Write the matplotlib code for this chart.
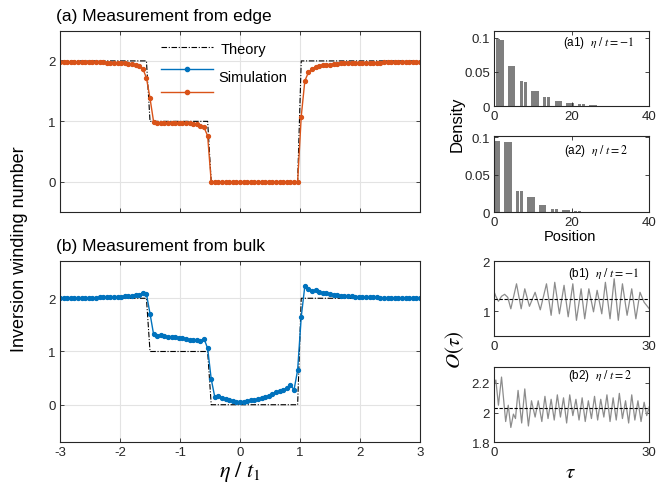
import numpy as np
import matplotlib
matplotlib.use('Agg')
import matplotlib.pyplot as plt
from matplotlib.lines import Line2D

plt.rcParams['font.family'] = ['Liberation Sans', 'DejaVu Sans']
plt.rcParams['mathtext.fontset'] = 'stix'
plt.rcParams['axes.unicode_minus'] = False

# eta / t1 grid (101 points, step 0.06)
eta = np.round(np.linspace(-3, 3, 101), 2)

theory = [2.0] * 25 + [1.0] * 17 + [0.0] * 25 + [2.0] * 34

edge = [1.98, 1.98, 1.98, 1.98, 1.98, 1.98, 1.98, 1.98, 1.98, 1.98,
        1.98, 1.98, 1.98, 1.97, 1.97, 1.97, 1.97, 1.96, 1.96, 1.95,
        1.95, 1.93, 1.91, 1.87, 1.72, 1.38, 0.99, 0.98, 0.98, 0.98,
        0.98, 0.98, 0.98, 0.98, 0.98, 0.97, 0.97, 0.96, 0.95, 0.93,
        0.90, 0.76, 0.00, 0.00, 0.00, 0.00, 0.00, 0.00, 0.00, 0.00,
        0.00, 0.00, 0.00, 0.00, 0.00, 0.00, 0.00, 0.00, 0.00, 0.00,
        0.00, 0.00, 0.00, 0.00, 0.00, 0.00, 0.00, 1.08, 1.67, 1.81,
        1.87, 1.90, 1.92, 1.93, 1.94, 1.94, 1.95, 1.95, 1.96, 1.96,
        1.97, 1.97, 1.97, 1.97, 1.97, 1.97, 1.97, 1.97, 1.97, 1.97,
        1.98, 1.98, 1.98, 1.98, 1.98, 1.98, 1.98, 1.98, 1.98, 1.98,
        1.98]

bulk = [2.00, 2.00, 2.00, 2.00, 2.00, 2.00, 2.01, 2.01, 2.01, 2.01,
        2.01, 2.02, 2.02, 2.02, 2.02, 2.03, 2.03, 2.03, 2.04, 2.04,
        2.05, 2.07, 2.06, 2.10, 2.08, 1.71, 1.32, 1.30, 1.31, 1.29,
        1.28, 1.28, 1.27, 1.26, 1.25, 1.24, 1.22, 1.22, 1.21, 1.19,
        1.24, 1.06, 0.48, 0.14, 0.16, 0.12, 0.10, 0.09, 0.07, 0.06,
        0.06, 0.06, 0.07, 0.08, 0.09, 0.10, 0.12, 0.14, 0.17, 0.20,
        0.23, 0.26, 0.27, 0.31, 0.37, 0.28, 0.65, 1.65, 2.23, 2.17,
        2.13, 2.15, 2.11, 2.10, 2.09, 2.08, 2.07, 2.06, 2.05, 2.05,
        2.04, 2.04, 2.03, 2.03, 2.02, 2.02, 2.02, 2.02, 2.02, 2.01,
        2.01, 2.01, 2.01, 2.01, 2.01, 2.01, 2.01, 2.01, 2.01, 2.01,
        2.01]

# density profiles
pos1 = [1, 2, 4, 5, 7, 8, 10, 11, 13, 14, 16, 17, 19, 20, 22, 23, 25, 26, 28, 29]
dens1 = [0.098, 0.097, 0.059, 0.059, 0.037, 0.036, 0.022, 0.022, 0.0135, 0.013,
         0.008, 0.008, 0.0048, 0.0045, 0.003, 0.0028, 0.0015, 0.0014, 0.001, 0.0009]
pos2 = [0, 1, 3, 4, 6, 7, 9, 10, 12, 13, 15, 16, 18, 19, 21, 22, 24, 25]
dens2 = [0.0956, 0.0956, 0.0934, 0.0934, 0.028, 0.0278, 0.0204, 0.0203, 0.0093, 0.0092,
         0.0044, 0.0043, 0.0027, 0.0026, 0.0013, 0.0012, 0.0009, 0.0008]

# O(tau), read at its turning points
t1 = [0.0, 0.3, 0.8, 1.4, 2.0, 2.6, 3.2, 4.3, 5.2, 5.9, 6.8, 7.9, 8.9, 10.1,
      11.0, 11.7, 12.6, 13.5, 14.3, 15.2, 15.9, 16.8, 17.5, 18.3, 19.2, 19.9,
      20.8, 21.5, 22.4, 23.2, 24.0, 24.8, 25.7, 26.6, 27.4, 28.2, 29.0, 30.0]
o1 = [1.38, 1.30, 1.20, 1.30, 1.34, 1.28, 1.05, 1.55, 1.05, 1.45, 1.10, 1.38,
      1.03, 1.55, 0.92, 1.58, 0.95, 1.52, 0.89, 1.55, 0.82, 1.45, 0.85, 1.45,
      0.99, 1.42, 0.95, 1.58, 0.85, 1.65, 0.82, 1.55, 0.92, 1.45, 0.85, 1.38,
      1.18, 1.05]
mean1 = 1.25

t2 = [0.0, 0.3, 0.8, 1.4, 2.2, 2.7, 3.2, 3.7, 4.1, 4.6, 5.3, 5.9, 6.6, 7.2,
      7.9, 8.5, 9.2, 9.8, 10.4, 11.0, 11.6, 12.2, 12.8, 13.4, 14.0, 14.6, 15.2,
      15.8, 16.4, 17.0, 17.6, 18.2, 18.8, 19.4, 20.0, 20.6, 21.2, 21.8, 22.4,
      23.0, 23.6, 24.2, 24.8, 25.4, 26.0, 26.6, 27.2, 27.8, 28.4, 29.0, 29.5, 30.0]
o2 = [2.19, 2.22, 2.05, 2.24, 1.94, 2.05, 1.90, 1.99, 1.96, 2.15, 1.93, 2.16,
      1.91, 2.08, 1.97, 2.08, 1.94, 2.11, 1.96, 2.09, 1.95, 2.12, 1.97, 2.10,
      1.93, 2.12, 1.98, 2.09, 1.95, 2.10, 1.94, 2.08, 1.96, 2.11, 1.95, 2.09,
      1.97, 2.12, 1.94, 2.10, 1.95, 2.13, 1.96, 2.08, 1.93, 2.12, 1.95, 2.08,
      1.94, 2.07, 1.98, 2.04]
mean2 = 2.03

BLUE = '#0072BD'
ORANGE = '#D95319'
SPINE = '#262626'


def style(ax, grid=False):
    for s in ax.spines.values():
        s.set_color(SPINE)
        s.set_linewidth(0.8)
    ax.tick_params(direction='in', top=True, right=True, length=3,
                   width=0.6, labelsize=9.5, colors=SPINE, pad=3)
    if grid:
        ax.grid(True, color='#e3e3e3', linewidth=0.8)
        ax.set_axisbelow(True)


fig = plt.figure(figsize=(6.56, 4.89), dpi=100)

axa = fig.add_axes([0.0915, 0.5644, 0.5488, 0.3708])
axb = fig.add_axes([0.0915, 0.0941, 0.5488, 0.3701])

for ax in (axa, axb):
    ax.plot(eta, theory, color='k', lw=0.8, dashes=(5, 1.5, 1, 1.5))
axa.plot(eta, edge, color=ORANGE, lw=1.0, marker='o', ms=2.8)
axb.plot(eta, bulk, color=BLUE, lw=1.0, marker='o', ms=2.8)

for ax in (axa, axb):
    style(ax, grid=True)
    ax.set_xlim(-3, 3)
    ax.set_xticks([-3, -2, -1, 0, 1, 2, 3])
    ax.set_yticks([0, 1, 2])
axa.set_ylim(-0.5, 2.5)
axb.set_ylim(-0.7, 2.7)
axa.set_xticklabels([])

axa.text(-0.01, 1.058, '(a) Measurement from edge', transform=axa.transAxes,
         fontsize=12.5, va='baseline', ha='left')
axb.text(-0.01, 1.061, '(b) Measurement from bulk', transform=axb.transAxes,
         fontsize=12.5, va='baseline', ha='left')

handles = [Line2D([], [], color='k', lw=0.8, dashes=(5, 1.5, 1, 1.5)),
           Line2D([], [], color=BLUE, lw=1.0, marker='o', ms=3),
           Line2D([], [], color=ORANGE, lw=1.0, marker='o', ms=3)]
axa.legend(handles, ['Theory', ' ', ' '], loc='upper left',
           bbox_to_anchor=(0.28, 0.94), frameon=False, fontsize=10.5,
           handlelength=3.6, handletextpad=0.5, labelspacing=0.55,
           borderpad=0, borderaxespad=0)
axa.text(0.44, 0.745, 'Simulation', transform=axa.transAxes, fontsize=10.5,
         va='center', ha='left')

fig.text(0.030, 0.49, 'Inversion winding number', rotation=90, fontsize=13,
         va='center', ha='center')
fig.text(240 / 656, 1 - 472 / 489, r'$\eta\ /\ t_1$', fontsize=16,
         va='center', ha='center')

# right column
ax1 = fig.add_axes([0.7535, 0.7806, 0.2363, 0.1546])
ax2 = fig.add_axes([0.7535, 0.5638, 0.2363, 0.1566])
ax3 = fig.add_axes([0.7535, 0.3102, 0.2363, 0.1534])
ax4 = fig.add_axes([0.7535, 0.0935, 0.2363, 0.1546])

ax1.bar(pos1, dens1, width=0.9, color='#7f7f7f')
ax2.bar(pos2, dens2, width=0.9, color='#7f7f7f')
for ax in (ax1, ax2):
    style(ax)
    ax.set_xlim(0, 40)
    ax.set_xticks([0, 20, 40])
    ax.set_yticks([0, 0.05, 0.1])
    ax.set_yticklabels(['0', '0.05', '0.1'])
ax1.set_ylim(0, 0.11)
ax2.set_ylim(0, 0.102)

ax3.plot(t1, o1, color='#8c8c8c', lw=0.9)
ax3.axhline(mean1, color='k', lw=0.8, ls=(0, (3, 1.5)))
ax3.set_ylim(0.5, 2)
ax3.set_yticks([1, 2])
ax4.plot(t2, o2, color='#8c8c8c', lw=0.9)
ax4.axhline(mean2, color='k', lw=0.8, ls=(0, (3, 1.5)))
ax4.set_ylim(1.8, 2.31)
ax4.set_yticks([1.8, 2, 2.2])
ax4.set_yticklabels(['1.8', '2', '2.2'])
for ax in (ax3, ax4):
    style(ax)
    ax.set_xlim(0, 30)
    ax.set_xticks([0, 30])

ann = dict(fontsize=8.5, va='center', ha='left')
ax1.text(0.443, 0.85, r'(a1)  $\eta\ /\ t = -1$', transform=ax1.transAxes, **ann)
ax2.text(0.45, 0.81, r'(a2)  $\eta\ /\ t = 2$', transform=ax2.transAxes, **ann)
ax3.text(0.477, 0.844, r'(b1)  $\eta\ /\ t = -1$', transform=ax3.transAxes, **ann)
ax4.text(0.477, 0.89, r'(b2)  $\eta\ /\ t = 2$', transform=ax4.transAxes, **ann)

fig.text(457 / 656, 1 - 124 / 489, 'Density', rotation=90, fontsize=12,
         va='center', ha='center')
fig.text(570 / 656, 1 - 237 / 489, 'Position', fontsize=10.5,
         va='center', ha='center')
fig.text(455 / 656, 1 - 350 / 489, r'$O(\tau)$', rotation=90, fontsize=15,
         va='center', ha='center')
fig.text(570 / 656, 1 - 473 / 489, r'$\tau$', fontsize=15,
         va='center', ha='center')

fig.savefig('out.png', dpi=100)
